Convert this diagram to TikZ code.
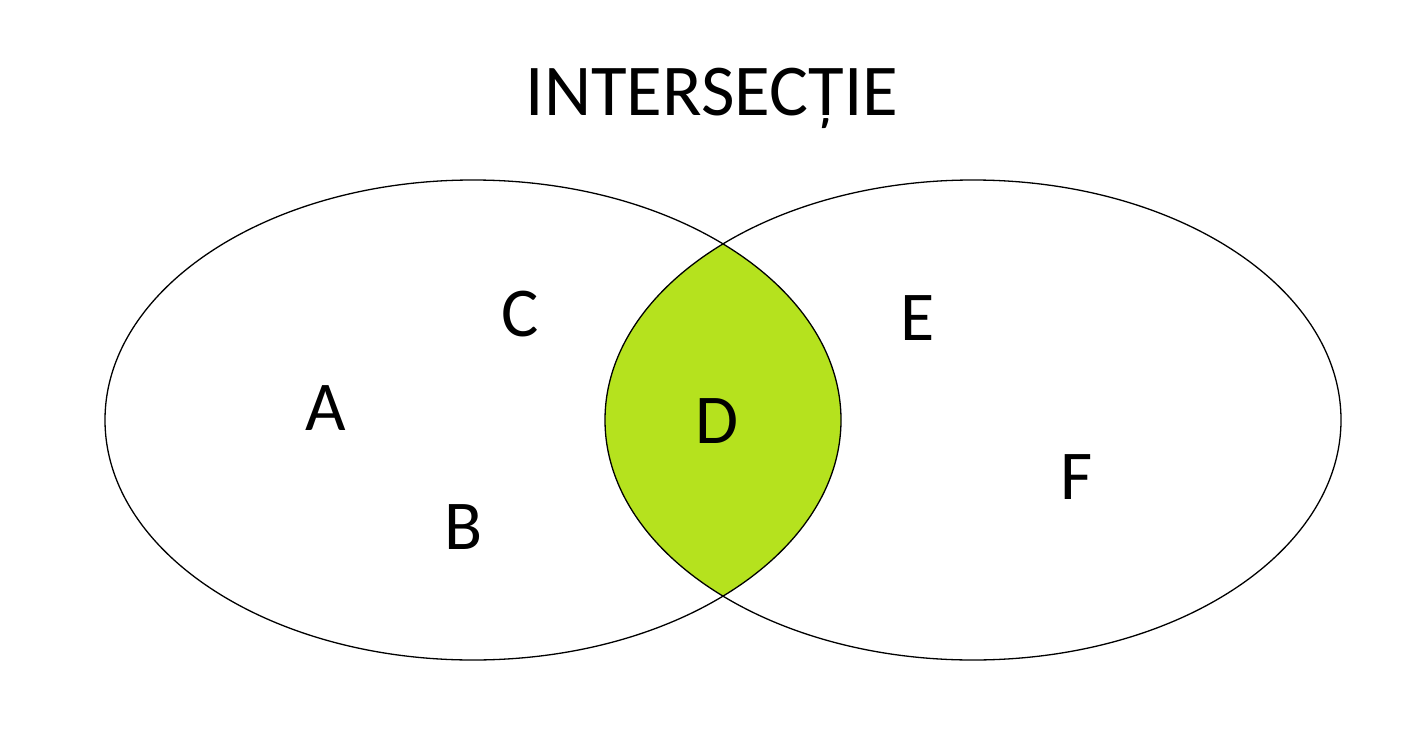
\documentclass[tikz,border=0pt]{standalone}
\usepackage{fontspec}
\setmainfont{Carlito}
\definecolor{lime}{RGB}{181,226,30}
\begin{document}
\begin{tikzpicture}[x=1pt,y=-1pt,
  setline/.style={draw=black,line width=1.3pt},
  lbl/.style={inner sep=0pt,font=\fontsize{70}{70}\selectfont},
  ttl/.style={inner sep=0pt,anchor=base,font=\fontsize{73}{73}\selectfont}]
\useasboundingbox (0,0) rectangle (1427,736);
\begin{scope}
  \clip (473,420) ellipse [x radius=368pt, y radius=240pt];
  \fill[lime] (973,420) ellipse [x radius=368pt, y radius=240pt];
\end{scope}
\draw[setline] (473,420) ellipse [x radius=368pt, y radius=240pt];
\draw[setline] (973,420) ellipse [x radius=368pt, y radius=240pt];
\node[ttl] (title) at (712,115) {INTERSECȚIE};
\node[lbl] (a) at (326,408) {A};
\node[lbl] (c) at (520,314) {C};
\node[lbl] (b) at (464,527) {B};
\node[lbl] (d) at (717,421) {D};
\node[lbl] (e) at (918,318) {E};
\node[lbl] (f) at (1077,477) {F};
\end{tikzpicture}
\end{document}
